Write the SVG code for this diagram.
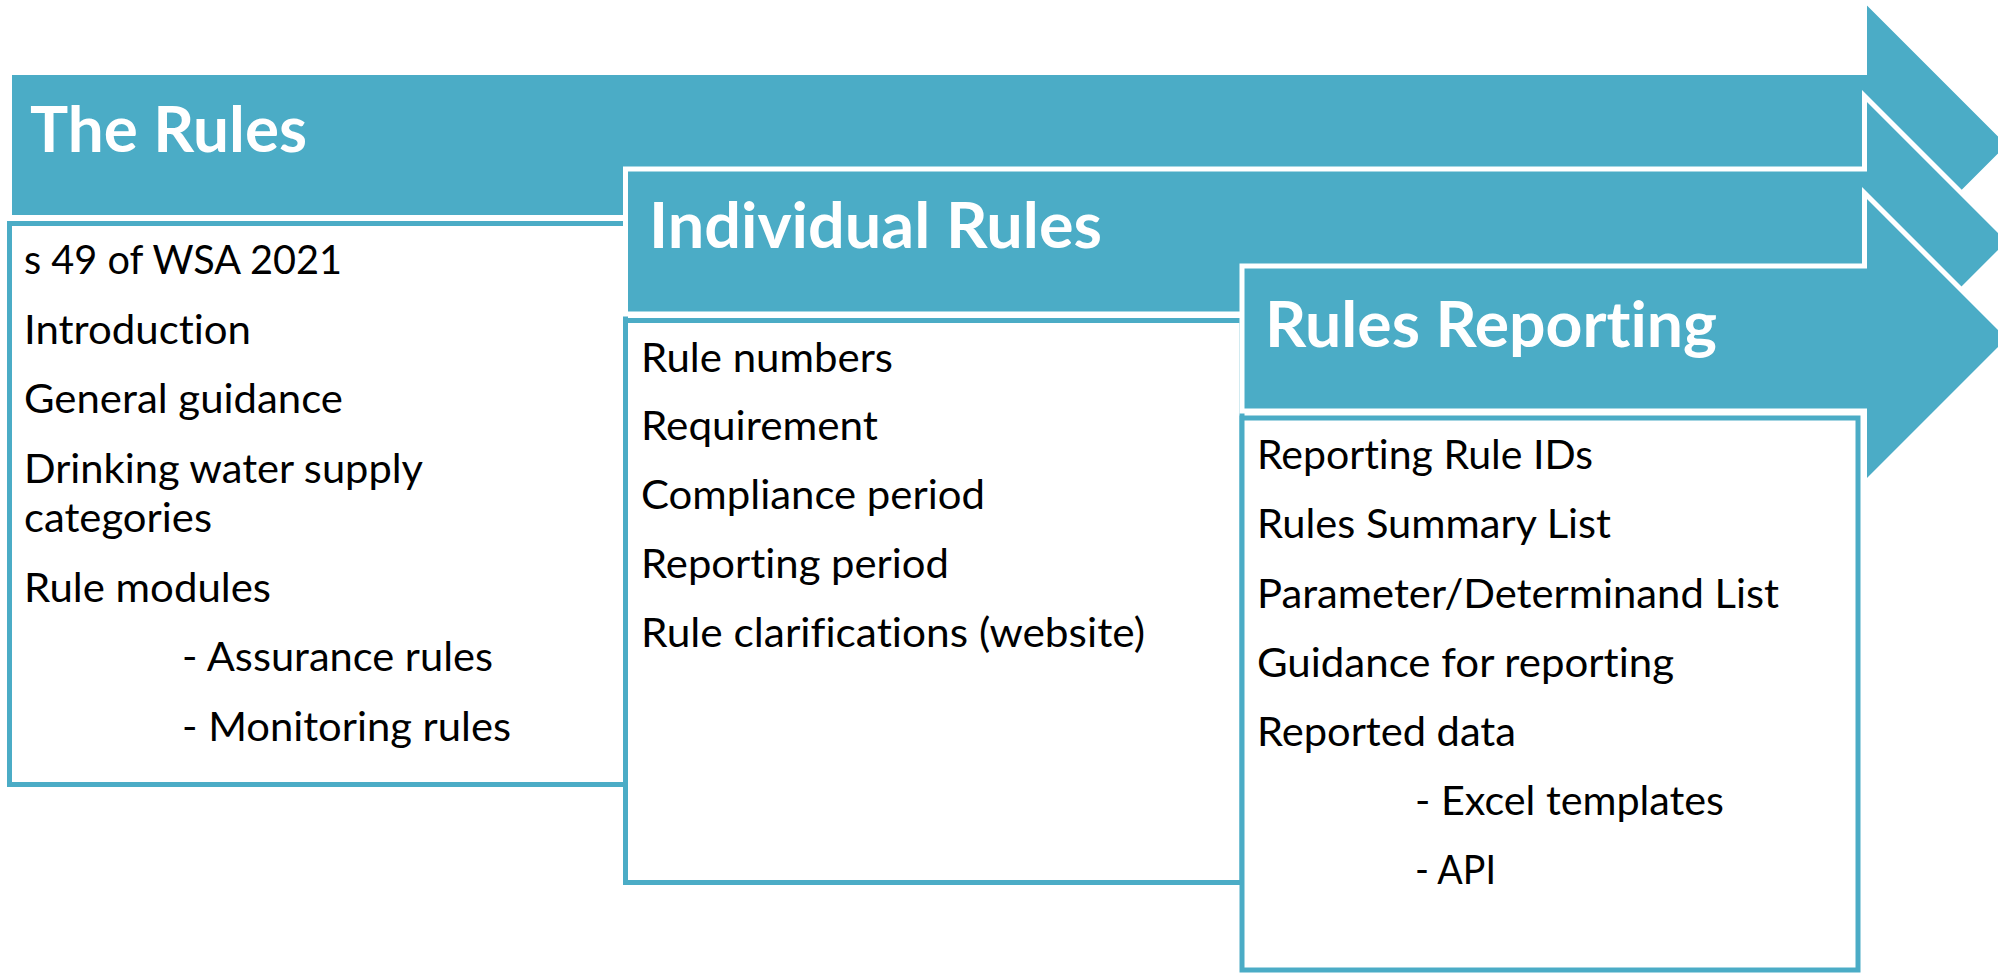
<svg xmlns="http://www.w3.org/2000/svg" width="1998" height="973" viewBox="0 0 1998 973">
<style>
.arrow{fill:#4BACC6;stroke:#FFFFFF;stroke-width:5;stroke-linejoin:miter}
.box{fill:#FFFFFF;stroke:#4BACC6;stroke-width:5}
.head{font-family:Lato,"Open Sans","Liberation Sans",sans-serif;font-weight:bold;font-size:64px;fill:#FFFFFF;font-variant-ligatures:none}
.item{font-family:Lato,"Open Sans","Liberation Sans",sans-serif;font-size:40.5px;fill:#000000;font-variant-ligatures:none}
</style>
<rect width="1998" height="973" fill="#FFFFFF"/>
<g id="the-rules">
<polygon class="arrow" points="9.5,72.5 1864.5,72.5 1864.5,-0.5 2010,145 1864.5,290.5 1864.5,217.5 9.5,217.5"/>
<text class="head" x="30" y="152" textLength="277" lengthAdjust="spacingAndGlyphs">The Rules</text>
<rect class="box" x="9.5" y="223.5" width="616" height="561"/>
<text class="item" x="24" y="274" textLength="318" lengthAdjust="spacingAndGlyphs">s 49 of WSA 2021</text>
<text class="item" x="24" y="344" textLength="227" lengthAdjust="spacingAndGlyphs">Introduction</text>
<text class="item" x="24" y="413" textLength="319" lengthAdjust="spacingAndGlyphs">General guidance</text>
<text class="item" x="24" y="483" textLength="399" lengthAdjust="spacingAndGlyphs">Drinking water supply</text>
<text class="item" x="24" y="532" textLength="188" lengthAdjust="spacingAndGlyphs">categories</text>
<text class="item" x="24" y="602" textLength="247" lengthAdjust="spacingAndGlyphs">Rule modules</text>
<text class="item" x="182" y="671" textLength="311" lengthAdjust="spacingAndGlyphs">- Assurance rules</text>
<text class="item" x="182" y="741" textLength="329" lengthAdjust="spacingAndGlyphs">- Monitoring rules</text>
</g>
<g id="individual-rules">
<polygon class="arrow" points="625.5,169 1864.5,169 1864.5,96 2010,241.5 1864.5,387 1864.5,314 625.5,314"/>
<text class="head" x="649" y="248" textLength="453" lengthAdjust="spacingAndGlyphs">Individual Rules</text>
<rect class="box" x="625.5" y="320.5" width="616.5" height="562"/>
<text class="item" x="641" y="372" textLength="252" lengthAdjust="spacingAndGlyphs">Rule numbers</text>
<text class="item" x="641" y="440" textLength="237" lengthAdjust="spacingAndGlyphs">Requirement</text>
<text class="item" x="641" y="509" textLength="344" lengthAdjust="spacingAndGlyphs">Compliance period</text>
<text class="item" x="641" y="578" textLength="308" lengthAdjust="spacingAndGlyphs">Reporting period</text>
<text class="item" x="641" y="647" textLength="504" lengthAdjust="spacingAndGlyphs">Rule clarifications (website)</text>
</g>
<g id="rules-reporting">
<polygon class="arrow" points="1242,266 1864.5,266 1864.5,193 2010,338.5 1864.5,484 1864.5,411 1242,411"/>
<text class="head" x="1265" y="347" textLength="452" lengthAdjust="spacingAndGlyphs">Rules Reporting</text>
<rect class="box" x="1242" y="418" width="616" height="552"/>
<text class="item" x="1257" y="469" textLength="336" lengthAdjust="spacingAndGlyphs">Reporting Rule IDs</text>
<text class="item" x="1257" y="538" textLength="354" lengthAdjust="spacingAndGlyphs">Rules Summary List</text>
<text class="item" x="1257" y="608" textLength="522" lengthAdjust="spacingAndGlyphs">Parameter/Determinand List</text>
<text class="item" x="1257" y="677" textLength="417" lengthAdjust="spacingAndGlyphs">Guidance for reporting</text>
<text class="item" x="1257" y="746" textLength="259" lengthAdjust="spacingAndGlyphs">Reported data</text>
<text class="item" x="1415" y="815" textLength="309" lengthAdjust="spacingAndGlyphs">- Excel templates</text>
<text class="item" x="1415" y="884" textLength="81" lengthAdjust="spacingAndGlyphs">- API</text>
</g>
</svg>
